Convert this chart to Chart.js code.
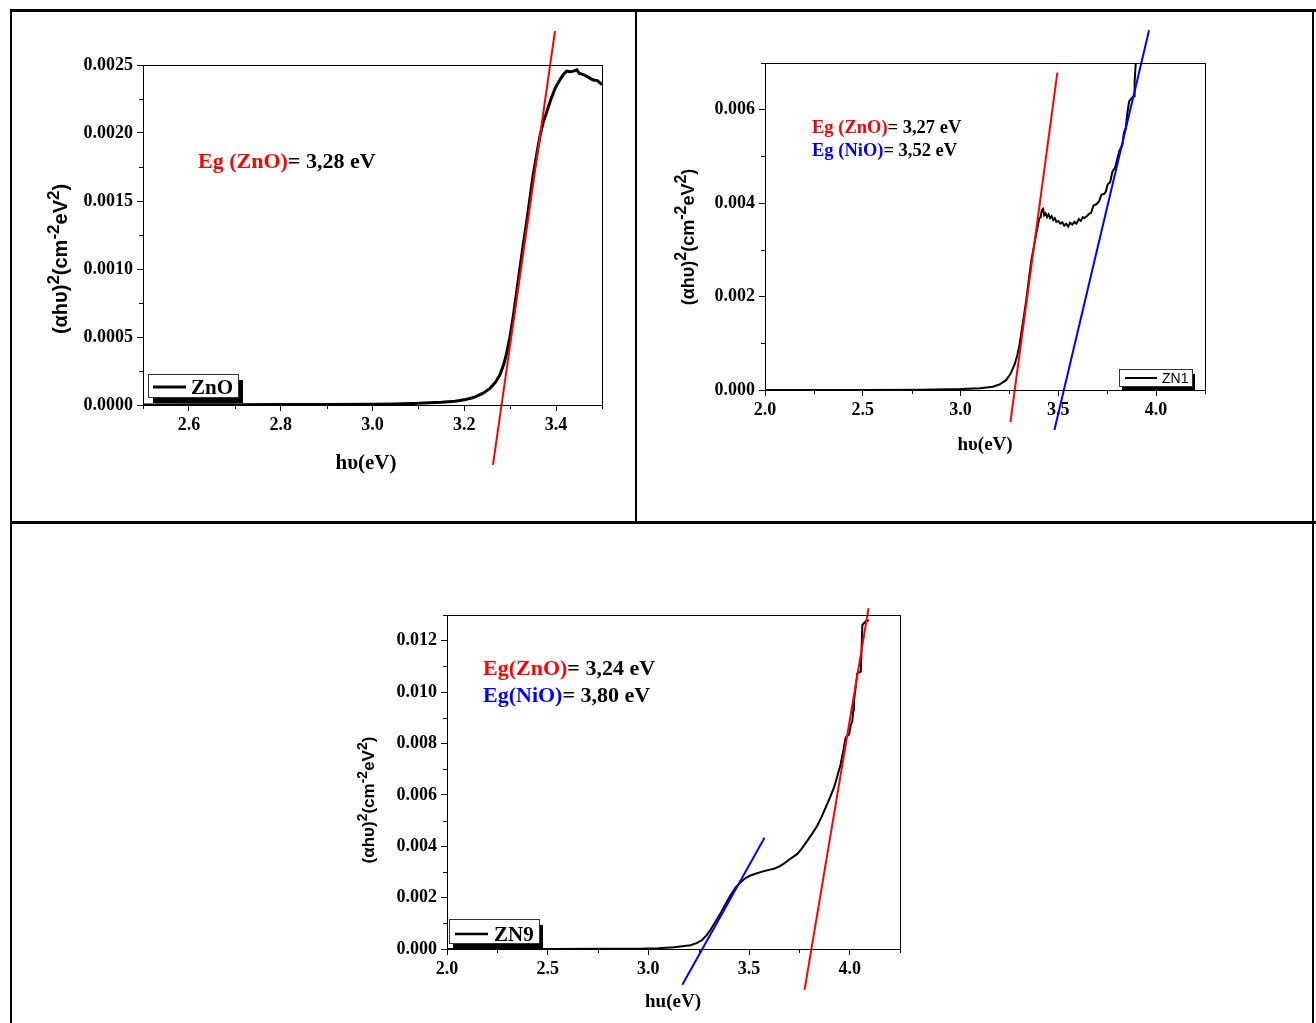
<!DOCTYPE html>
<html>
<head>
<meta charset="utf-8">
<script src="https://cdn.jsdelivr.net/npm/chart.js@4.4.1/dist/chart.umd.min.js"></script>
<style>
  body { margin: 0; background: #fff; }
  #page { position: relative; width: 1316px; height: 1023px; overflow: hidden; background: #fff; }
  .rule { position: absolute; background: #000; }
  canvas { position: absolute; }
</style>
</head>
<body>
<div id="page">
  <div class="rule" style="left:10px;top:9px;width:1306px;height:3px"></div>
  <div class="rule" style="left:10px;top:9px;width:2px;height:1014px"></div>
  <div class="rule" style="left:1312px;top:9px;width:2px;height:1014px"></div>
  <div class="rule" style="left:635px;top:9px;width:2px;height:514px"></div>
  <div class="rule" style="left:10px;top:521px;width:1306px;height:3px"></div>

  <canvas id="chartZnO" width="600" height="490" style="left:20px;top:20px"></canvas>
  <canvas id="chartZN1" width="665" height="500" style="left:645px;top:15px"></canvas>
  <canvas id="chartZN9" width="700" height="490" style="left:300px;top:530px"></canvas>
</div>

<script>
// ---- ZnO ----
const znoX = [2.50, 2.60, 2.70, 2.80, 2.90, 3.00, 3.05, 3.10, 3.15, 3.18, 3.20, 3.22, 3.24, 3.256, 3.268,
  3.278, 3.286, 3.292, 3.300, 3.307, 3.314, 3.321, 3.328, 3.336, 3.343, 3.350, 3.358, 3.365, 3.372,
  3.380, 3.390, 3.398, 3.408, 3.416, 3.423, 3.430, 3.438, 3.445, 3.450, 3.459, 3.468, 3.475, 3.481,
  3.490, 3.500];
const znoY = [0.000000, 0.000001, 0.000002, 0.000003, 0.000004, 0.000006, 0.000008, 0.000012, 0.000020,
  0.000028, 0.000038, 0.000055, 0.000085, 0.000122, 0.000168, 0.000225, 0.000300, 0.000375, 0.000510,
  0.000660, 0.000830, 0.001000, 0.001170, 0.001350, 0.001520, 0.001690, 0.001850, 0.001980, 0.002080,
  0.002160, 0.002260, 0.002330, 0.002390, 0.002430, 0.002455, 0.002450, 0.002455, 0.002465, 0.002440,
  0.002430, 0.002415, 0.002400, 0.002390, 0.002385, 0.002355];
const znoFitX = [3.2625, 3.3976];
const znoFitY = [-0.00044, 0.00275];
const znoXTicks = [2.6, 2.8, 3.0, 3.2, 3.4];
const znoXMinor = [2.5, 2.7, 2.9, 3.1, 3.3, 3.5];
const znoYTicks = [0, 0.0005, 0.0010, 0.0015, 0.0020, 0.0025];
const znoYMinor = [0.00025, 0.00075, 0.00125, 0.00175, 0.00225];

// ---- ZN1 ----
const zn1X = [2.00, 2.50, 2.80, 3.00, 3.10, 3.165, 3.20, 3.233, 3.255, 3.276, 3.290, 3.301, 3.318, 3.335,
  3.348, 3.361, 3.374, 3.386, 3.395, 3.403, 3.410, 3.415, 3.422, 3.428, 3.435, 3.442, 3.450, 3.458,
  3.466, 3.474, 3.482, 3.490, 3.500, 3.510, 3.520, 3.530, 3.540, 3.550, 3.560, 3.572, 3.582, 3.592,
  3.605, 3.615, 3.625, 3.633, 3.645, 3.660, 3.667, 3.680, 3.695, 3.709, 3.720, 3.735, 3.743, 3.752,
  3.765, 3.777, 3.790, 3.803, 3.812, 3.828, 3.835, 3.845, 3.852, 3.862, 3.875, 3.888, 3.890, 3.896,
  3.900];
const zn1Y = [0, 0.000002, 0.000006, 0.000020, 0.000040, 0.000070, 0.000120, 0.000210, 0.000340, 0.000540,
  0.000740, 0.000960, 0.001420, 0.001890, 0.002320, 0.002750, 0.003050, 0.003320, 0.003520, 0.003680,
  0.003700, 0.003850, 0.003880, 0.003740, 0.003780, 0.003700, 0.003760, 0.003680, 0.003720, 0.003640,
  0.003680, 0.003600, 0.003620, 0.003560, 0.003590, 0.003520, 0.003560, 0.003500, 0.003580, 0.003540,
  0.003600, 0.003560, 0.003660, 0.003620, 0.003700, 0.003680, 0.003720, 0.003780, 0.003790, 0.003950,
  0.003980, 0.004040, 0.004180, 0.004200, 0.004250, 0.004400, 0.004450, 0.004680, 0.004760, 0.004970,
  0.005120, 0.005250, 0.005500, 0.005610, 0.005900, 0.006180, 0.006250, 0.006290, 0.006600, 0.007000,
  0.007500];
const zn1ZnoFitX = [3.255, 3.495];
const zn1ZnoFitY = [-0.000686, 0.006795];
const zn1NioFitX = [3.480, 3.964];
const zn1NioFitY = [-0.000857, 0.0077];
const zn1XTicks = [2.0, 2.5, 3.0, 3.5, 4.0];
const zn1XMinor = [2.25, 2.75, 3.25, 3.75, 4.25];
const zn1YTicks = [0, 0.002, 0.004, 0.006];
const zn1YMinor = [0.001, 0.003, 0.005, 0.007];

// ---- ZN9 ----
const zn9X = [2.00, 2.50, 2.80, 2.96, 3.05, 3.126, 3.17, 3.209, 3.240, 3.267, 3.290, 3.308, 3.333, 3.358,
  3.383, 3.408, 3.433, 3.458, 3.483, 3.507, 3.540, 3.574, 3.600, 3.623, 3.650, 3.673, 3.707, 3.740,
  3.765, 3.790, 3.815, 3.839, 3.860, 3.881, 3.902, 3.922, 3.940, 3.955, 3.968, 3.980, 3.990, 3.997,
  4.005, 4.013, 4.018, 4.021, 4.030, 4.038, 4.050, 4.055, 4.060, 4.063, 4.080, 4.097];
const zn9Y = [0, 0.000002, 0.000005, 0.000010, 0.000030, 0.000070, 0.000110, 0.000150, 0.000230, 0.000350,
  0.000540, 0.000740, 0.001060, 0.001380, 0.001740, 0.002090, 0.002390, 0.002600, 0.002760, 0.002860,
  0.002950, 0.003030, 0.003080, 0.003120, 0.003210, 0.003320, 0.003520, 0.003700, 0.003940, 0.004220,
  0.004500, 0.004800, 0.005130, 0.005510, 0.005890, 0.006280, 0.006760, 0.007190, 0.007700, 0.008220,
  0.008300, 0.008350, 0.008700, 0.008860, 0.009300, 0.009640, 0.010200, 0.010730, 0.010780, 0.010800,
  0.011900, 0.012610, 0.012750, 0.012800];
const zn9ZnoFitX = [3.776, 4.094];
const zn9ZnoFitY = [-0.00159, 0.01327];
const zn9NioFitX = [3.169, 3.577];
const zn9NioFitY = [-0.00139, 0.00433];
const zn9XTicks = [2.0, 2.5, 3.0, 3.5, 4.0];
const zn9XMinor = [2.25, 2.75, 3.25, 3.75, 4.25];
const zn9YTicks = [0, 0.002, 0.004, 0.006, 0.008, 0.010, 0.012];
const zn9YMinor = [0.001, 0.003, 0.005, 0.007, 0.009, 0.011, 0.013];

const RED = '#ff0000';
const BLUE = '#0000ff';
const SERIF = '"Liberation Serif", "Times New Roman", serif';
const SANS = '"Liberation Sans", Arial, sans-serif';

function pts(xs, ys) {
  return xs.map((x, i) => ({ x: x, y: ys[i] }));
}

// draws a run of differently styled pieces of text one after another
function drawRich(ctx, parts, x, y, center) {
  let w = 0;
  parts.forEach(p => { ctx.font = p.font; w += ctx.measureText(p.t).width; });
  let cx = center ? x - w / 2 : x;
  parts.forEach(p => {
    ctx.font = p.font;
    ctx.fillStyle = p.color || '#000';
    ctx.fillText(p.t, cx, y + (p.dy || 0));
    cx += ctx.measureText(p.t).width;
  });
}

function yTitleParts(size, sup) {
  const m = 'bold ' + size + 'px ' + SANS;
  const s = 'bold ' + sup + 'px ' + SANS;
  const up = -Math.round(size * 0.42);
  return [
    { t: '(\u03b1h\u03c5)', font: m }, { t: '2', font: s, dy: up },
    { t: '(cm', font: m }, { t: '-2', font: s, dy: up },
    { t: 'eV', font: m }, { t: '2', font: s, dy: up },
    { t: ')', font: m }
  ];
}

// frame, minor ticks, titles, notes and the boxed legend
const decor = {
  id: 'decor',
  afterDraw(chart, args, o) {
    const ctx = chart.ctx;
    const a = chart.chartArea;
    const xs = chart.scales.x, ys = chart.scales.y;
    const ox = o.offset[0], oy = o.offset[1];
    ctx.save();
    ctx.strokeStyle = '#000';
    ctx.lineWidth = 1;
    ctx.strokeRect(Math.round(a.left) + 0.5, Math.round(a.top) + 0.5,
      Math.round(a.right - a.left), Math.round(a.bottom - a.top));

    ctx.beginPath();
    o.xMinor.forEach(v => {
      const px = Math.round(xs.getPixelForValue(v)) + 0.5;
      ctx.moveTo(px, a.bottom); ctx.lineTo(px, a.bottom + 4);
    });
    o.yMinor.forEach(v => {
      const py = Math.round(ys.getPixelForValue(v)) + 0.5;
      ctx.moveTo(a.left, py); ctx.lineTo(a.left - 4, py);
    });
    ctx.stroke();

    ctx.textBaseline = 'alphabetic';
    // y title
    ctx.save();
    ctx.translate(o.yTitle.x - ox, o.yTitle.y - oy);
    ctx.rotate(-Math.PI / 2);
    drawRich(ctx, yTitleParts(o.yTitle.size, o.yTitle.sup), 0, o.yTitle.size * 0.36, true);
    ctx.restore();

    // x title
    drawRich(ctx, [{ t: o.xTitle.text, font: 'bold ' + o.xTitle.size + 'px ' + SERIF }],
      o.xTitle.x - ox, o.xTitle.y - oy, true);

    // gap notes
    o.notes.forEach(n => {
      drawRich(ctx, [
        { t: n.label, font: n.font, color: n.color },
        { t: n.value, font: n.font }
      ], n.x - ox, n.y - oy, false);
    });

    // legend
    const L = o.legend;
    ctx.fillStyle = '#000';
    ctx.fillRect(L.x - ox + L.sh[0], L.y - oy + L.sh[1], L.w, L.h);
    ctx.fillStyle = '#fff';
    ctx.fillRect(L.x - ox, L.y - oy, L.w, L.h);
    ctx.strokeStyle = '#333';
    ctx.lineWidth = 1;
    ctx.strokeRect(L.x - ox + 0.5, L.y - oy + 0.5, L.w, L.h);
    ctx.strokeStyle = '#000';
    ctx.lineWidth = L.lw;
    ctx.beginPath();
    ctx.moveTo(L.x1 - ox, L.ly - oy);
    ctx.lineTo(L.x2 - ox, L.ly - oy);
    ctx.stroke();
    ctx.fillStyle = '#000';
    ctx.font = L.font;
    ctx.fillText(L.text, L.tx - ox, L.ty - oy);
    ctx.restore();
  }
};

function makeChart(id, c) {
  const tickFont = { family: SERIF, size: c.tickSize, weight: 'bold' };
  const grid = { drawOnChartArea: false, drawTicks: true, tickLength: 6, color: '#000', lineWidth: 1 };
  return new Chart(document.getElementById(id), {
    type: 'line',
    data: { datasets: c.datasets },
    options: {
      responsive: false,
      animation: false,
      layout: { padding: { top: c.pad[0], right: c.pad[1], bottom: 0, left: 0 } },
      elements: { point: { radius: 0 }, line: { tension: 0 } },
      plugins: { legend: { display: false }, tooltip: { enabled: false }, decor: c.decor },
      scales: {
        x: {
          type: 'linear', min: c.xRange[0], max: c.xRange[1], bounds: 'data',
          afterBuildTicks: s => { s.ticks = c.xTicks.map(v => ({ value: v })); },
          afterFit: s => { s.height = c.xH; },
          ticks: { autoSkip: false, maxRotation: 0, padding: 4, color: '#000', font: tickFont,
            callback: v => v.toFixed(1) },
          grid: grid,
          border: { display: true, color: '#000', width: 1 }
        },
        y: {
          type: 'linear', min: c.yRange[0], max: c.yRange[1], bounds: 'data',
          afterBuildTicks: s => { s.ticks = c.yTicks.map(v => ({ value: v })); },
          afterFit: s => { s.width = c.yW; },
          ticks: { autoSkip: false, padding: 4, color: '#000', font: tickFont,
            callback: v => v.toFixed(c.yDec) },
          grid: grid,
          border: { display: true, color: '#000', width: 1 }
        }
      }
    },
    plugins: [decor]
  });
}

function fitLine(xs, ys, color) {
  return { data: pts(xs, ys), borderColor: color, borderWidth: 2, clip: false, pointRadius: 0 };
}
function curve(xs, ys, w) {
  return { data: pts(xs, ys), borderColor: '#000', borderWidth: w, pointRadius: 0 };
}

// ZnO panel
makeChart('chartZnO', {
  xRange: [2.5, 3.5], yRange: [0, 0.0025], xTicks: znoXTicks, yTicks: znoYTicks, yDec: 4,
  tickSize: 18, pad: [45, 18], yW: 123, xH: 105,
  datasets: [fitLine(znoFitX, znoFitY, RED), curve(znoX, znoY, 3)],
  decor: {
    offset: [20, 20], xMinor: znoXMinor, yMinor: znoYMinor,
    yTitle: { x: 60, y: 259, size: 20, sup: 17 },
    xTitle: { text: 'h\u03c5(eV)', x: 366, y: 469, size: 21 },
    notes: [{ label: 'Eg (ZnO)', value: '= 3,28 eV', color: RED, font: 'bold 22px ' + SERIF, x: 198, y: 168 }],
    legend: { x: 148, y: 374, w: 90, h: 23, sh: [5, 6], x1: 153, x2: 186, ly: 387, lw: 3,
      text: 'ZnO', font: 'bold 21px ' + SERIF, tx: 191, ty: 394 }
  }
});

// ZN1 panel
makeChart('chartZN1', {
  xRange: [2.0, 4.25], yRange: [0, 0.007], xTicks: zn1XTicks, yTicks: zn1YTicks, yDec: 3,
  tickSize: 18, pad: [48, 105], yW: 120, xH: 125,
  datasets: [fitLine(zn1ZnoFitX, zn1ZnoFitY, RED), fitLine(zn1NioFitX, zn1NioFitY, BLUE), curve(zn1X, zn1Y, 2)],
  decor: {
    offset: [645, 15], xMinor: zn1XMinor, yMinor: zn1YMinor,
    yTitle: { x: 688, y: 237, size: 18, sup: 16 },
    xTitle: { text: 'h\u03c5(eV)', x: 985, y: 450, size: 19 },
    notes: [
      { label: 'Eg (ZnO)', value: '= 3,27 eV', color: RED, font: 'bold 18.5px ' + SERIF, x: 812, y: 133 },
      { label: 'Eg (NiO)', value: '= 3,52 eV', color: BLUE, font: 'bold 18.5px ' + SERIF, x: 812, y: 156 }
    ],
    legend: { x: 1119, y: 369, w: 73, h: 17, sh: [3, 5], x1: 1125, x2: 1157, ly: 378, lw: 2,
      text: 'ZN1', font: '14px ' + SANS, tx: 1162, ty: 383 }
  }
});

// ZN9 panel
makeChart('chartZN9', {
  xRange: [2.0, 4.25], yRange: [0, 0.013], xTicks: zn9XTicks, yTicks: zn9YTicks, yDec: 3,
  tickSize: 18, pad: [85, 100], yW: 147, xH: 71,
  datasets: [fitLine(zn9ZnoFitX, zn9ZnoFitY, RED), fitLine(zn9NioFitX, zn9NioFitY, BLUE), curve(zn9X, zn9Y, 2)],
  decor: {
    offset: [300, 530], xMinor: zn9XMinor, yMinor: zn9YMinor,
    yTitle: { x: 368, y: 800, size: 17, sup: 14 },
    xTitle: { text: 'hu(eV)', x: 673, y: 1007, size: 19 },
    notes: [
      { label: 'Eg(ZnO)', value: '= 3,24 eV', color: RED, font: 'bold 22px ' + SERIF, x: 483, y: 675 },
      { label: 'Eg(NiO)', value: '= 3,80 eV', color: BLUE, font: 'bold 22px ' + SERIF, x: 483, y: 702 }
    ],
    legend: { x: 449, y: 919, w: 90, h: 24, sh: [4, 6], x1: 455, x2: 488, ly: 934, lw: 2.5,
      text: 'ZN9', font: 'bold 21px ' + SERIF, tx: 494, ty: 941 }
  }
});
</script>
</body>
</html>
